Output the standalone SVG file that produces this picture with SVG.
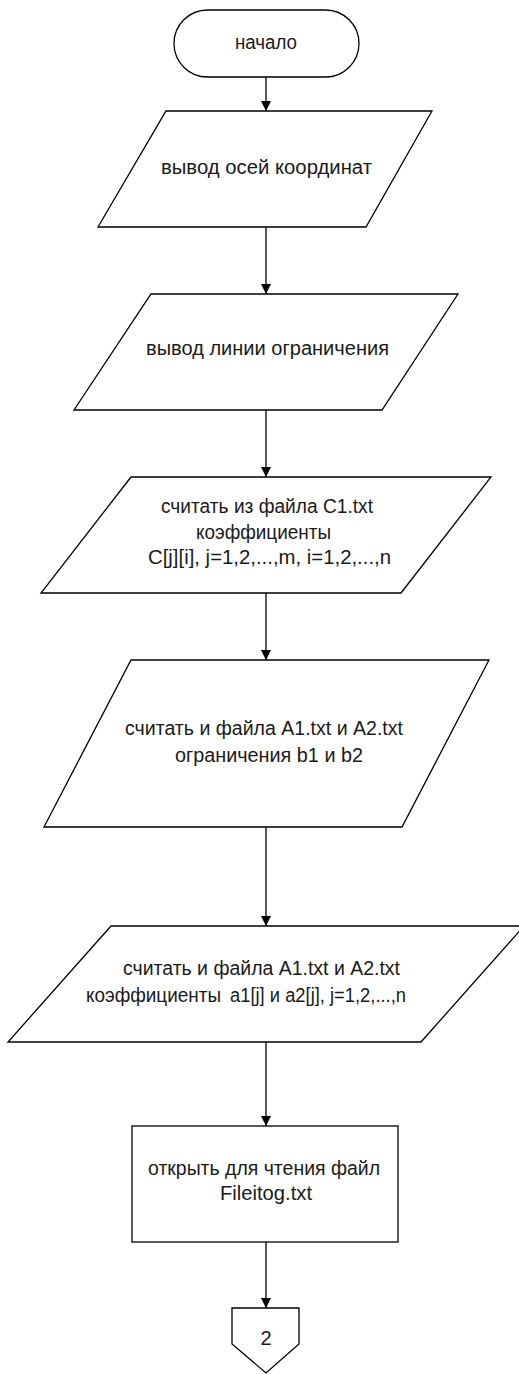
<svg xmlns="http://www.w3.org/2000/svg" width="519" height="1374" viewBox="0 0 519 1374">
<style>
.s{fill:#ffffff;stroke:#000000;stroke-width:1.3}
.t{font-family:"Liberation Sans",Arial,sans-serif;font-size:20px;fill:#1a1a1a;text-anchor:middle;dominant-baseline:central}
.l{text-anchor:start}
.c{stroke:#000000;stroke-width:1.3;fill:none;marker-end:url(#ah)}
</style>
<defs>
<marker id="ah" markerWidth="10" markerHeight="12" refX="10" refY="5" orient="auto" markerUnits="userSpaceOnUse" viewBox="0 0 10 10">
<path d="M0,0 L10,5 L0,10 Z" fill="#000000"/>
</marker>
</defs>
<rect width="519" height="1374" fill="#ffffff"/>
<g id="connectors">
<line class="c" x1="266" y1="77" x2="266" y2="111"/>
<line class="c" x1="266" y1="227" x2="266" y2="294"/>
<line class="c" x1="266" y1="410" x2="266" y2="477"/>
<line class="c" x1="266" y1="593" x2="266" y2="660"/>
<line class="c" x1="266" y1="827" x2="266" y2="926"/>
<line class="c" x1="266" y1="1042" x2="266" y2="1126"/>
<line class="c" x1="266" y1="1242" x2="266" y2="1308"/>
</g>
<g id="start">
<rect class="s" x="174" y="10" width="185" height="67" rx="33.5" ry="33.5"/>
<text class="t" x="266" y="42" textLength="62" lengthAdjust="spacingAndGlyphs">начало</text>
</g>
<g id="out-axes">
<polygon class="s" points="166,111 432,111 366,227 98,227"/>
<text class="t" x="266.5" y="167" textLength="211" lengthAdjust="spacingAndGlyphs">вывод осей координат</text>
</g>
<g id="out-line">
<polygon class="s" points="151,294 458,294 382,410 74,410"/>
<text class="t" x="267.5" y="348" textLength="243" lengthAdjust="spacingAndGlyphs">вывод линии ограничения</text>
</g>
<g id="read-c">
<polygon class="s" points="131,477 491,477 401,593 41,593"/>
<text class="t" x="267" y="506" textLength="212" lengthAdjust="spacingAndGlyphs">считать из файла C1.txt</text>
<text class="t" x="263.5" y="532" textLength="135" lengthAdjust="spacingAndGlyphs">коэффициенты</text>
<text class="t" x="269.5" y="557" textLength="243" lengthAdjust="spacingAndGlyphs">C[j][i], j=1,2,...,m, i=1,2,...,n</text>
</g>
<g id="read-b">
<polygon class="s" points="131,660 489,660 402,827 44,827"/>
<text class="t" x="264" y="728" textLength="278" lengthAdjust="spacingAndGlyphs">считать и файла A1.txt и A2.txt</text>
<text class="t" x="269" y="755" textLength="188" lengthAdjust="spacingAndGlyphs">ограничения b1 и b2</text>
</g>
<g id="read-a">
<polygon class="s" points="111,926 524,926 421,1042 8,1042"/>
<text class="t" x="261.5" y="968" textLength="277" lengthAdjust="spacingAndGlyphs">считать и файла A1.txt и A2.txt</text>
<text class="t l" x="86" y="995" textLength="135" lengthAdjust="spacingAndGlyphs">коэффициенты</text>
<text class="t l" x="230" y="995" textLength="176" lengthAdjust="spacingAndGlyphs">a1[j] и a2[j], j=1,2,...,n</text>
</g>
<g id="open-file">
<rect class="s" x="132" y="1126" width="266" height="116"/>
<text class="t" x="264" y="1168" textLength="232" lengthAdjust="spacingAndGlyphs">открыть для чтения файл</text>
<text class="t" x="266" y="1193" textLength="92" lengthAdjust="spacingAndGlyphs">Fileitog.txt</text>
</g>
<g id="offpage">
<polygon class="s" points="232,1308 299,1308 299,1344 266,1373 232,1344"/>
<text class="t" x="266" y="1338">2</text>
</g>
</svg>
